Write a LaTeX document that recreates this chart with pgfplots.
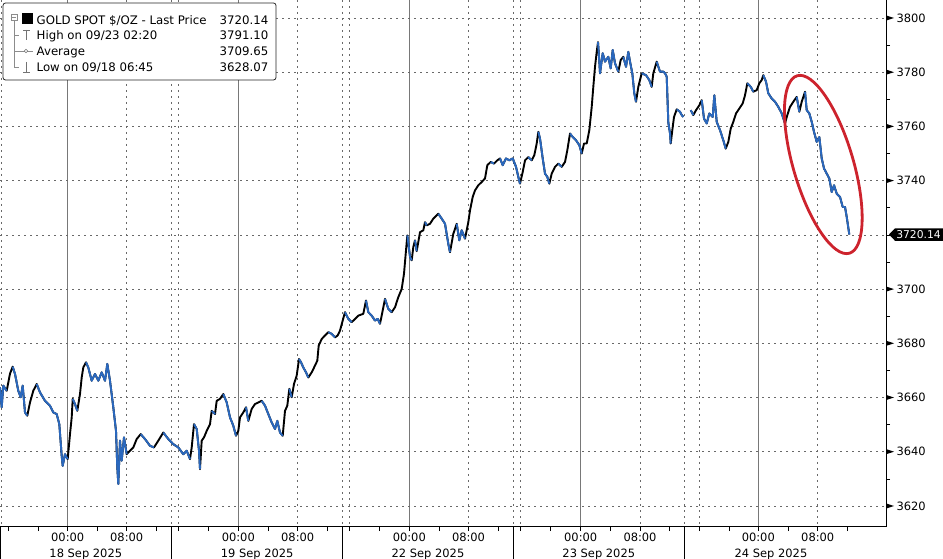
\documentclass[border=0pt]{standalone}
\usepackage{pgfplots}
\usepackage{pgfplotstable}
\pgfplotsset{compat=1.18}
\usepackage{fontspec}
\setmainfont{DejaVu Sans}
\definecolor{cblue}{RGB}{42,104,190}
\definecolor{gridc}{RGB}{105,105,105}
\definecolor{solidc}{RGB}{120,120,120}
\definecolor{redc}{RGB}{205,35,45}
% x = horizontal time position (trading-time scale), y = price, yb = price on falling stretches (blue)
\pgfplotstableread{
x y yb
0 3663.7 3663.7
1.7 3656.4 3656.4
3.3 3664.4 3664.4
6.7 3662.5 3662.5
10 3668.8 nan
12.7 3671.4 3671.4
15 3668.7 3668.7
18.3 3662.5 3662.5
20.7 3660.1 3660.1
22.7 3664.4 3664.4
25 3654.5 3654.5
27.3 3653.3 3653.3
30 3658.2 nan
33.3 3662.5 nan
36.7 3665 3665
40 3661.9 3661.9
45 3658.8 3658.8
50 3657 3657
53.3 3654.5 3654.5
56.7 3653.9 3653.9
59.3 3650.2 3650.2
61.7 3638.5 3638.5
62.7 3634.8 3634.8
65 3639.1 3639.1
67.7 3637.3 3637.3
70 3646.5 nan
71.7 3652.7 nan
72.7 3659.5 3659.5
75 3657.6 3657.6
77.3 3655.1 3655.1
80 3661.3 nan
81.7 3667.4 nan
83.3 3671.1 nan
86 3673 3673
88.3 3671.1 3671.1
91.7 3666.2 3666.2
95 3668.7 3668.7
98.3 3666.2 3666.2
101.7 3669.3 3669.3
105 3666.2 3666.2
107.3 3672.4 3672.4
110 3666.2 3666.2
113.3 3656.4 3656.4
116 3647.7 3647.7
117.3 3634.2 3634.2
118.3 3628.1 3628.1
120 3644.1 3644.1
121.7 3636.7 3636.7
124 3645.3 3645.3
126.7 3639.1 3639.1
130 3640.4 nan
133.3 3641.6 nan
136.7 3644.7 nan
140.7 3646.5 3646.5
145 3644.7 3644.7
150 3642.2 3642.2
154 3641.6 3641.6
158.3 3644.1 nan
163.3 3647.1 3647.1
168.3 3644.7 3644.7
173.3 3642.8 3642.8
178.3 3641.6 3641.6
183.3 3639.1 3639.1
186.7 3640.4 3640.4
190 3637.3 3637.3
191.7 3641.6 nan
194 3650.2 3650.2
196.7 3648.4 3648.4
199 3640.4 3640.4
200 3633.6 3633.6
201.7 3644.1 nan
204 3645.3 nan
206.7 3647.7 nan
210 3650.2 nan
211.7 3655.1 3655.1
215 3653.9 3653.9
216.7 3658.8 nan
220 3659.5 nan
223.3 3661.3 3661.3
226.7 3658.2 3658.2
230 3652.7 3652.7
233.3 3649.6 3649.6
236 3645.9 3645.9
238.3 3647.7 nan
240 3652.7 nan
243.3 3654.5 nan
246 3656.4 3656.4
248.3 3651.4 3651.4
251.7 3655.8 nan
255 3657.6 nan
258.3 3658.2 nan
261.7 3658.8 3658.8
265 3657 3657
268.3 3653.9 3653.9
271.7 3650.8 3650.8
275 3648.4 3648.4
277.3 3651.4 3651.4
280 3647.1 3647.1
282.7 3645.9 3645.9
285 3655.1 nan
287.3 3657 nan
289.3 3663.2 3663.2
291.7 3660.1 3660.1
294 3665 nan
296.7 3668.1 nan
299 3674.2 3674.2
301 3673 3673
303.3 3671.1 3671.1
306 3669.3 3669.3
308.3 3667.4 3667.4
311.7 3669.3 nan
315 3671.8 nan
317.3 3673.6 nan
318.7 3679.2 nan
321.7 3681.6 nan
325 3682.9 nan
328.3 3684.1 3684.1
331.7 3683.5 3683.5
335 3682.2 3682.2
337.7 3682.9 nan
340 3684.7 nan
342.7 3688.4 nan
345 3691.5 3691.5
348.3 3689 3689
351.7 3687.8 3687.8
355 3689 nan
358.3 3690.2 nan
363.3 3690.9 nan
366 3695.8 3695.8
368.3 3691.5 3691.5
371.7 3690.2 3690.2
375 3688.4 3688.4
377.7 3689 3689
380 3687.2 3687.2
382.7 3692.1 nan
385 3696.4 3696.4
388.3 3692.7 3692.7
391.7 3691.5 3691.5
395 3693.3 nan
398.3 3697 nan
401.7 3700.1 nan
404 3705.7 nan
406 3714.3 nan
407.3 3719.8 3719.8
410 3712 3712
411.7 3710.6 3710.6
413.3 3715.5 nan
415 3718 3718
416.7 3714 3714
420 3721 nan
423.3 3721.7 nan
425 3724.7 3724.7
426.7 3723.5 3723.5
430 3724.1 nan
433.3 3726 nan
438.3 3727.8 3727.8
441.7 3726 3726
445 3724.1 3724.1
448.3 3716.7 3716.7
450 3713.6 3713.6
453.3 3720.4 nan
456.7 3724.1 3724.1
459.3 3718 3718
461.7 3721.7 3721.7
465 3718.6 3718.6
468.3 3724.7 nan
470 3729 nan
472.7 3734 nan
475 3736.4 nan
478.3 3738.3 nan
481.7 3739.5 nan
485 3740.8 nan
487.3 3745.7 nan
490.7 3746.9 3746.9
494 3746.3 3746.3
497.3 3747.5 nan
500 3748.2 3748.2
502.7 3745.7 3745.7
506 3748.2 3748.2
509.3 3747.5 3747.5
512.7 3748.2 3748.2
516 3745.1 3745.1
518.3 3741.4 3741.4
520 3738.9 3738.9
522.7 3743.2 nan
525 3747.5 nan
528.3 3748.7 3748.7
531.7 3747.5 3747.5
534.3 3749.4 nan
536.7 3753.7 nan
538.3 3758 3758
540 3755.5 3755.5
542.7 3748.2 3748.2
545 3742.6 3742.6
547.3 3741.4 3741.4
549.3 3738.9 3738.9
551.7 3742.6 nan
555 3745.1 nan
558.3 3746.3 3746.3
561.7 3745.1 3745.1
565 3746.9 nan
567.3 3751.2 nan
570 3757.4 3757.4
572.7 3756.1 3756.1
576 3754.9 3754.9
579.3 3753.1 3753.1
581.7 3750 3750
584 3753.7 nan
586.7 3753.7 nan
589.3 3758.6 nan
591.7 3767.2 nan
593.3 3774.6 nan
595 3782 nan
596.7 3787.5 nan
598 3791.1 3791.1
599 3785.7 3785.7
600 3779.6 3779.6
602.7 3787 3787
605 3783.9 3783.9
608.3 3785.7 3785.7
610.7 3781.4 3781.4
612.7 3788.2 3788.2
615 3783.3 3783.3
618.3 3780.2 3780.2
620.7 3784.5 nan
623.3 3785.7 3785.7
626 3782 3782
628.3 3787.5 3787.5
630 3783.9 3783.9
632.3 3779.6 3779.6
634.3 3772.2 3772.2
636 3769.1 3769.1
638.3 3774.6 nan
641.7 3779.6 3779.6
646 3778.9 3778.9
649.3 3777.1 3777.1
651.7 3774.6 3774.6
653.3 3779.6 nan
656.7 3783.9 3783.9
660 3780.2 3780.2
663.3 3780.2 3780.2
665 3779.6 3779.6
666.7 3778.3 3778.3
668.3 3761.5 3761.5
670 3757.4 3757.4
670.7 3753.7 3753.7
672.7 3759.8 nan
674 3763.5 nan
676.7 3766.3 3766.3
680 3765.4 3765.4
681.7 3764.2 3764.2
683.3 3763.5 3763.5
}\segA
\pgfplotstableread{
x y yb
690.7 3766 3766
693.3 3764.2 3764.2
696 3766 nan
699.3 3767.8 nan
701.7 3769.7 3769.7
704 3762.9 3762.9
706.7 3761.1 3761.1
709.3 3764.8 3764.8
712.7 3763.5 3763.5
714.3 3771.5 3771.5
716.7 3761.7 3761.7
720 3758.6 3758.6
723.3 3754.9 3754.9
725.7 3751.8 3751.8
728.3 3754.3 nan
730.7 3759.2 nan
733.3 3761.7 nan
736 3764.8 nan
739.3 3766.6 nan
742.7 3768.5 nan
745 3771.5 nan
747.3 3775.9 3775.9
750.7 3774.6 3774.6
753.3 3772.8 3772.8
756.7 3773.4 nan
759.3 3775.9 nan
761.7 3777.1 nan
763.3 3778.9 3778.9
766 3776.5 3776.5
768.3 3772.2 3772.2
771.7 3770.3 3770.3
775 3769.1 3769.1
778.3 3767.2 3767.2
781.7 3764.8 3764.8
785 3761.1 3761.1
787.3 3764.2 nan
790 3767.2 nan
793.3 3769.1 nan
796.7 3770.9 3770.9
799.3 3765.4 3765.4
801.7 3769.1 nan
805 3772.8 3772.8
806.7 3766 3766
809.3 3764.8 3764.8
811.7 3761.7 3761.7
814 3758 3758
816.7 3754.3 3754.3
819.3 3756.1 3756.1
821.7 3748.2 3748.2
824 3744.5 3744.5
826.7 3742.6 3742.6
829.3 3740.8 3740.8
831.7 3735.8 3735.8
834 3738.3 3738.3
836.7 3735.2 3735.2
840 3734 3734
842.7 3730.3 3730.3
845 3730.3 3730.3
846.7 3726.6 3726.6
849.3 3720.14 3720.14
}\segB
\begin{document}
\begin{tikzpicture}
% vertical grid lines (drawn under the axis), pixel frame with origin at the axis' top-left corner
\begin{scope}[shift={(0,527bp)}, x=1bp, y=-1bp]
  \foreach \g in {67.7,238.3,409.3,580.7,758.3} {\draw[solidc, line width=0.7bp] (\g,0) -- (\g,527);}
  \foreach \g in {1,126.7,171.7,178.3,297.7,342.7,349.3,468.5,513.3,520.7,640,684.3,699.3,817.7}
    {\draw[gridc, line width=0.6bp, dash pattern=on 2bp off 4bp] (\g,0) -- (\g,527);}
\end{scope}
\begin{axis}[
  name=ax, at={(0,0)}, anchor=south west,
  scale only axis, width=886bp, height=527bp,
  xmin=0, xmax=886, ymin=3612.25, ymax=3806.64,
  axis line style={draw=none},
  tick align=outside,
  major tick length=4bp, minor tick length=4bp,
  tick style={black, line width=0.7bp},
  xtick pos=left,
  xtick={67.7,126.7,238.3,297.7,409.3,468.5,580.7,640,758.3,817.7},
  xticklabels={00:00,08:00,00:00,08:00,00:00,08:00,00:00,08:00,00:00,08:00},
  minor xtick={8.3,38,97.2,156.2,178.3,208,268,327.4,349.3,379,439,498,520.7,550.7,610.4,669.7,699.3,729,788,847.4},
  ytick={3620,3640,3660,3680,3700,3720,3740,3760,3780,3800},
  yticklabels={3620,3640,3660,3680,3700,,3740,3760,3780,3800},
  minor ytick={3630,3650,3670,3690,3710,3730,3750,3770,3790},
  ytick pos=right, yticklabel pos=right,
  ymajorgrids,
  major grid style={gridc, line width=0.6bp, dash pattern=on 2bp off 4bp},
  tick label style={font=\fontsize{11.5}{13}\selectfont},
  xticklabel style={yshift=1.5bp},
  yticklabel style={anchor=west, xshift=3bp},
]
\addplot[black, line width=1.9bp, line join=round] table[x=x, y=y] {\segA};
\addplot[black, line width=1.9bp, line join=round] table[x=x, y=y] {\segB};
\addplot[cblue, line width=1.9bp, line join=round, unbounded coords=jump] table[x=x, y=yb] {\segA};
\addplot[cblue, line width=1.9bp, line join=round, unbounded coords=jump] table[x=x, y=yb] {\segB};
\end{axis}
\begin{scope}[shift={(0,527bp)}, x=1bp, y=-1bp]
  % axis lines
  \draw[black, line width=1bp] (0,527) -- (886,527) -- (886,0);
  \foreach \s in {0.5,171.7,342.7,513.3,684.3} {\draw[black, line width=0.8bp] (\s,527) -- (\s,559);}
  % right-axis arrow markers at major ticks
  \foreach \p in {18,72.2,126.4,180.6,289.1,343.3,397.5,451.7,506}
    {\fill[black] (886,\p-2.6) -- (894,\p) -- (886,\p+2.6) -- cycle;}
  % last price tag
  \fill[black] (889,234.5) -- (895,228.3) -- (943,228.3) -- (943,240.8) -- (895,240.8) -- cycle;
  \node[text=white, font=\fontsize{10.8}{12}\selectfont, inner sep=0pt, anchor=base] at (918.5,238.8) {3720.14};
  % date labels
  \foreach \c/\t in {85.8/18 Sep 2025, 257.2/19 Sep 2025, 428/22 Sep 2025, 598.8/23 Sep 2025, 771/24 Sep 2025}
    {\node[anchor=base, inner sep=0pt, font=\fontsize{11.5}{13}\selectfont] at (\c,557.5) {\t};}
  % legend
  \draw[fill=white, draw=black!85, line width=0.8bp, rounded corners=2.5bp] (3,3) rectangle (276,80);
  \draw[black!45, line width=0.6bp] (14,20) -- (14,67) -- (19,67);
  \draw[black!45, line width=0.6bp] (14,35) -- (19,35);
  \draw[black!45, line width=0.6bp] (11,14) rectangle (17,20);
  \draw[black!45, line width=0.6bp] (12.3,17) -- (15.7,17);
  \fill[black] (21.7,13.3) rectangle (32.7,24.3);
  \draw[black!55, line width=0.7bp] (23,30) -- (29.6,30) (26.3,30) -- (26.3,40);
  \draw[black!45, line width=0.6bp] (14,51) -- (33,51);
  \draw[black!55, line width=0.6bp, fill=white] (26,51) circle (1.7);
  \draw[black!55, line width=0.7bp] (26.3,62) -- (26.3,72) (23,72) -- (29.6,72);
  \begin{scope}[every node/.style={inner sep=0pt, font=\fontsize{11.8}{14}\selectfont}]
    \node[anchor=base west] at (36.5,24.2) {GOLD SPOT \$/OZ - Last Price};
    \node[anchor=base west] at (36.5,39.8) {High on 09/23 02:20};
    \node[anchor=base west] at (36.5,56) {Average};
    \node[anchor=base west] at (36.5,71.8) {Low on 09/18 06:45};
    \node[anchor=base east] at (268.5,24.2) {3720.14};
    \node[anchor=base east] at (268.5,39.8) {3791.10};
    \node[anchor=base east] at (268.5,56) {3709.65};
    \node[anchor=base east] at (268.5,71.8) {3628.07};
  \end{scope}
  % annotation ellipse
  \draw[redc, line width=2.8bp, rotate around={-73.6:(823.3,164.5)}] (823.3,164.5) ellipse [x radius=92.5, y radius=30];
\end{scope}
\pgfresetboundingbox
\path[shift={(0,527bp)}, x=1bp, y=-1bp] (0,0) rectangle (943,559);
\end{tikzpicture}
\end{document}
